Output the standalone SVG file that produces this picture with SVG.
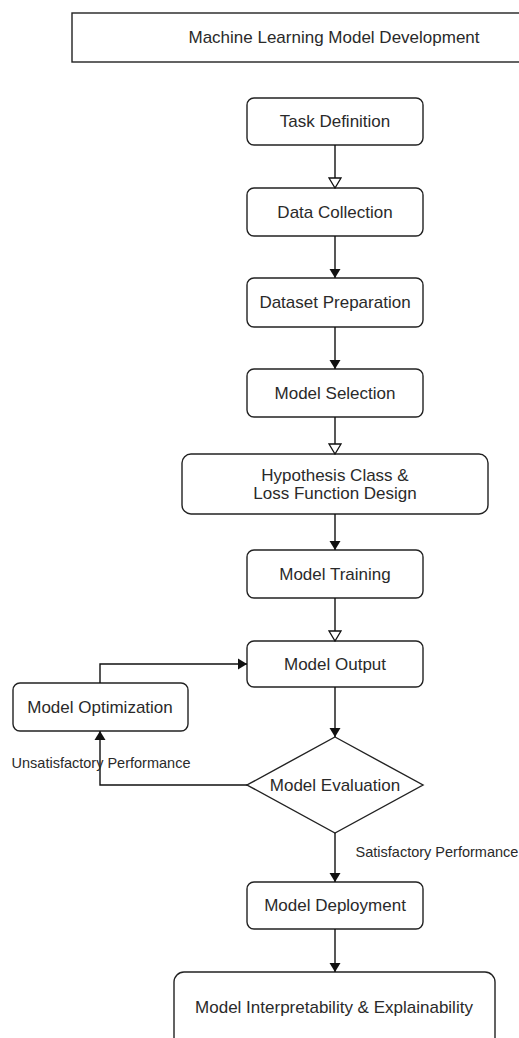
<svg xmlns="http://www.w3.org/2000/svg" width="519" height="1038" viewBox="0 0 519 1038">
<style>
.box{fill:#fff;stroke:#222;stroke-width:1.4}
.t{font-family:"Liberation Sans",Arial,sans-serif;font-size:17px;fill:#2a2a2a;text-anchor:middle;dominant-baseline:central}
.lbl{font-family:"Liberation Sans",Arial,sans-serif;font-size:14.5px;fill:#2a2a2a;text-anchor:middle;dominant-baseline:central}
.c{fill:none;stroke:#111;stroke-width:1.4}
</style>
<defs>
<marker id="af" markerUnits="userSpaceOnUse" markerWidth="9" markerHeight="12" refX="9" refY="6" orient="auto" viewBox="0 0 9 12"><path d="M0,0.5 L9,6 L0,11.5 z" fill="#111"/></marker>
<marker id="ah" markerUnits="userSpaceOnUse" markerWidth="12" markerHeight="14" refX="11" refY="7" orient="auto" viewBox="0 0 12 14"><path d="M1,1 L11,7 L1,13 z" fill="#fff" stroke="#111" stroke-width="1.3"/></marker>
</defs>
<g id="title"><rect class="box" x="72" y="13" width="470" height="49"/><text class="t" x="334" y="37">Machine Learning Model Development</text></g>
<g id="task"><rect class="box" x="247" y="98" width="176" height="47" rx="7"/><text class="t" x="335" y="121.5">Task Definition</text></g>
<g id="data"><rect class="box" x="247" y="188" width="176" height="48" rx="7"/><text class="t" x="335" y="212">Data Collection</text></g>
<g id="dataset"><rect class="box" x="247" y="278" width="176" height="49" rx="7"/><text class="t" x="335" y="302.5">Dataset Preparation</text></g>
<g id="selection"><rect class="box" x="247" y="369" width="176" height="48" rx="7"/><text class="t" x="335" y="393">Model Selection</text></g>
<g id="hypothesis"><rect class="box" x="182" y="454" width="306" height="60" rx="9"/><text class="t" x="335" y="475">Hypothesis Class &amp;</text><text class="t" x="335" y="493">Loss Function Design</text></g>
<g id="training"><rect class="box" x="247" y="550" width="176" height="48" rx="7"/><text class="t" x="335" y="574">Model Training</text></g>
<g id="output"><rect class="box" x="247" y="641" width="176" height="46" rx="7"/><text class="t" x="335" y="664">Model Output</text></g>
<g id="optimization"><rect class="box" x="13" y="683" width="175" height="48" rx="7"/><text class="t" x="100" y="707">Model Optimization</text></g>
<g id="evaluation"><path class="box" d="M335,737 L423,785 L335,833 L247,785 z"/><text class="t" x="335" y="785">Model Evaluation</text></g>
<g id="deployment"><rect class="box" x="247" y="882" width="176" height="47" rx="7"/><text class="t" x="335" y="905.5">Model Deployment</text></g>
<g id="interpretability"><rect class="box" x="174" y="972" width="321" height="90" rx="10"/><text class="t" x="334" y="1007">Model Interpretability &amp; Explainability</text></g>
<g id="connectors">
<path class="c" d="M335,145 V188" marker-end="url(#ah)"/>
<path class="c" d="M335,236 V278" marker-end="url(#af)"/>
<path class="c" d="M335,327 V369" marker-end="url(#af)"/>
<path class="c" d="M335,417 V454" marker-end="url(#ah)"/>
<path class="c" d="M335,514 V550" marker-end="url(#af)"/>
<path class="c" d="M335,598 V641" marker-end="url(#ah)"/>
<path class="c" d="M335,687 V737" marker-end="url(#af)"/>
<path class="c" d="M100,683 V664 H247" marker-end="url(#af)"/>
<path class="c" d="M247,785 H100 V731" marker-end="url(#af)"/>
<path class="c" d="M335,833 V882" marker-end="url(#af)"/>
<path class="c" d="M335,929 V972" marker-end="url(#af)"/>
<text class="lbl" x="101" y="763">Unsatisfactory Performance</text>
<text class="lbl" x="437" y="852">Satisfactory Performance</text>
</g>
</svg>
